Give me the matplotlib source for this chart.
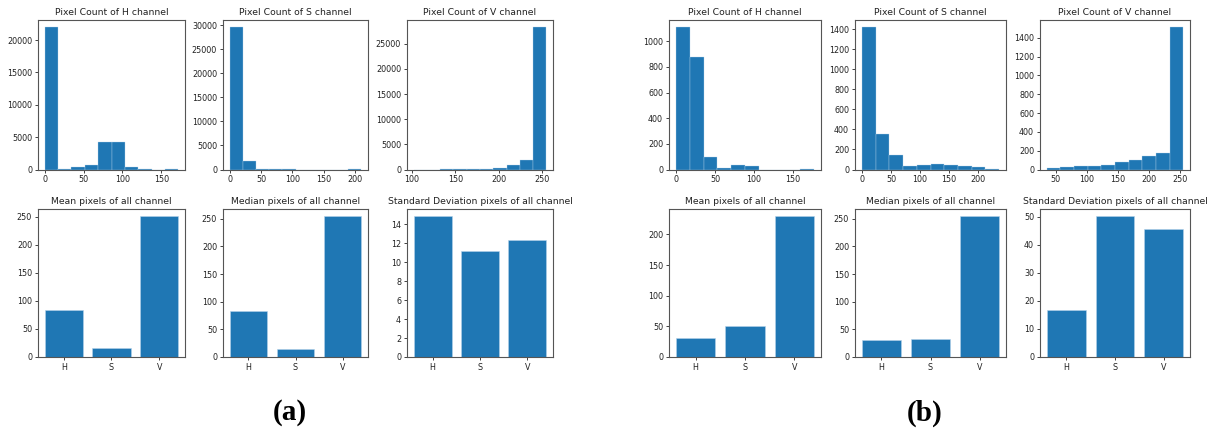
import numpy as np
import matplotlib
matplotlib.use("Agg")
import matplotlib.pyplot as plt

# ---------------- data ----------------
channels = ["H", "S", "V"]

# (a) histograms: data range and counts of 10 bins
a_h_range = (0, 172)
a_h_counts = [22000, 80, 415, 670, 4200, 4200, 360, 100, 0, 10]
a_s_range = (0, 210)
a_s_counts = [29600, 1850, 100, 10, 5, 0, 0, 0, 0, 3]
a_v_range = (102, 255)
a_v_counts = [0, 0, 10, 40, 50, 80, 330, 930, 1870, 28300]

# (b) histograms
b_h_range = (0, 177)
b_h_counts = [1110, 875, 95, 10, 35, 25, 0, 0, 0, 5]
b_s_range = (0, 236)
b_s_counts = [1420, 352, 140, 30, 43, 50, 40, 33, 27, 5]
b_v_range = (36, 255)
b_v_counts = [18, 25, 32, 35, 43, 82, 96, 139, 171, 1514]

# (a) statistics
a_mean = [84, 16.5, 251]
a_median = [83, 14, 255]
a_std = [14.84, 11.21, 12.36]

# (b) statistics
b_mean = [31, 50, 230]
b_median = [31, 32, 255]
b_std = [16.7, 50.3, 45.5]

# ---------------- layout ----------------
W, H = 1211, 429
fig = plt.figure(figsize=(W / 100, H / 100), dpi=100)

plt.rcParams["font.family"] = ["DejaVu Sans"]
BLUE = "#1f77b4"
EDGE = "#b5d3ea"
TICK_FS = 5.8
TITLE_FS = 6.7


def add_ax(l, r, t, b):
    return fig.add_axes([l / W, 1 - b / H, (r - l) / W, (b - t) / H])


def style(ax, title):
    ax.set_title(title, fontsize=TITLE_FS, pad=3.5, color="#222222")
    ax.tick_params(labelsize=TICK_FS, length=2.5, width=0.6, pad=1.8,
                   colors="#222222")
    for s in ax.spines.values():
        s.set_linewidth(0.8)
        s.set_color("#555555")


def hist(ax, rng, counts, title):
    edges = np.linspace(rng[0], rng[1], len(counts) + 1)
    centers = (edges[:-1] + edges[1:]) / 2
    ax.hist(centers, bins=edges, weights=counts, color=BLUE,
            edgecolor=EDGE, linewidth=0.25)
    style(ax, title)


def bars(ax, vals, title):
    ax.bar(channels, vals, color=BLUE, edgecolor=EDGE, linewidth=0.4)
    style(ax, title)


top_t, top_b = 20, 169.5
bot_t, bot_b = 209, 357

cols_a = [(38, 185), (223, 368), (407, 553)]
cols_b = [(669, 821), (855, 1006), (1040, 1190)]

hist(add_ax(*cols_a[0], top_t, top_b), a_h_range, a_h_counts, "Pixel Count of H channel")
hist(add_ax(*cols_a[1], top_t, top_b), a_s_range, a_s_counts, "Pixel Count of S channel")
hist(add_ax(*cols_a[2], top_t, top_b), a_v_range, a_v_counts, "Pixel Count of V channel")
bars(add_ax(*cols_a[0], bot_t, bot_b), a_mean, "Mean pixels of all channel")
bars(add_ax(*cols_a[1], bot_t, bot_b), a_median, "Median pixels of all channel")
bars(add_ax(*cols_a[2], bot_t, bot_b), a_std, "Standard Deviation pixels of all channel")

hist(add_ax(*cols_b[0], top_t, top_b), b_h_range, b_h_counts, "Pixel Count of H channel")
hist(add_ax(*cols_b[1], top_t, top_b), b_s_range, b_s_counts, "Pixel Count of S channel")
hist(add_ax(*cols_b[2], top_t, top_b), b_v_range, b_v_counts, "Pixel Count of V channel")
bars(add_ax(*cols_b[0], bot_t, bot_b), b_mean, "Mean pixels of all channel")
bars(add_ax(*cols_b[1], bot_t, bot_b), b_median, "Median pixels of all channel")
bars(add_ax(*cols_b[2], bot_t, bot_b), b_std, "Standard Deviation pixels of all channel")

fig.text(290 / W, 1 - 413 / H, "(a)", fontsize=21, fontweight="bold",
         family=["Liberation Serif", "DejaVu Serif"], ha="center", va="center")
fig.text(925 / W, 1 - 413 / H, "(b)", fontsize=21, fontweight="bold",
         family=["Liberation Serif", "DejaVu Serif"], ha="center", va="center")

fig.savefig("out.png", dpi=100)
